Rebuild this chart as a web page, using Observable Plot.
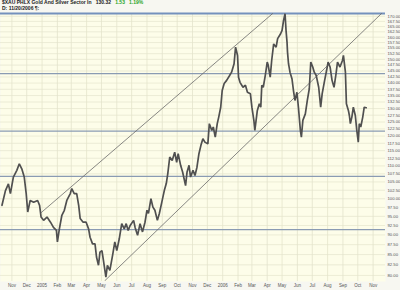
<!DOCTYPE html>
<html>
<head>
<meta charset="utf-8">
<script src="https://cdn.jsdelivr.net/npm/d3@7"></script>
<script src="https://cdn.jsdelivr.net/npm/@observablehq/plot@0.6"></script>
<style>
  html, body { margin: 0; padding: 0; background: #f7f7f1; }
  #wrap { position: relative; width: 400px; height: 290px; overflow: hidden; }
  #hdr { position: absolute; left: 2px; top: 0px; font-family: "Liberation Sans", Arial, sans-serif; font-size: 5px; line-height: 5.5px; color: #222; font-weight: bold; }
  #hdr .g { color: #2aa52a; }
</style>
</head>
<body>
<div id="wrap">
  <div id="chart"></div>
  <div id="hdr">
    <div>$XAU PHLX Gold And Silver Sector In&nbsp;&nbsp; 130.32&nbsp;&nbsp; <span class="g">1.53&nbsp;&nbsp; 1.19%</span></div>
    <div>D: 11/20/2006 ¶:</div>
  </div>
</div>
<script>
// ---- data ----
const dates = [
"2004-10-12","2004-10-19","2004-10-25","2004-10-29","2004-11-04","2004-11-11","2004-11-16","2004-11-21","2004-11-26","2004-11-30",
"2004-12-03","2004-12-08","2004-12-15","2004-12-23","2004-12-27","2004-12-30","2005-01-04","2005-01-11","2005-01-18","2005-01-24",
"2005-01-30","2005-02-01","2005-02-05","2005-02-10","2005-02-15","2005-02-20","2005-02-27","2005-03-02","2005-03-07","2005-03-12",
"2005-03-16","2005-03-19","2005-03-25","2005-03-31","2005-04-05","2005-04-08","2005-04-13","2005-04-18","2005-04-21","2005-04-25",
"2005-04-28","2005-05-02","2005-05-05","2005-05-10","2005-05-13","2005-05-18","2005-05-24","2005-05-28","2005-06-01","2005-06-06",
"2005-06-11","2005-06-16","2005-06-20","2005-06-24","2005-06-28","2005-07-05","2005-07-08","2005-07-13","2005-07-18","2005-07-23",
"2005-07-28","2005-08-01","2005-08-04","2005-08-09","2005-08-13","2005-08-17","2005-08-22","2005-08-26","2005-08-31","2005-09-05",
"2005-09-09","2005-09-12","2005-09-16","2005-09-21","2005-09-26","2005-09-30","2005-10-03","2005-10-08","2005-10-12","2005-10-18",
"2005-10-21","2005-10-25","2005-10-28","2005-11-02","2005-11-06","2005-11-10","2005-11-14","2005-11-18","2005-11-22","2005-11-26",
"2005-12-02","2005-12-05","2005-12-10","2005-12-13","2005-12-17","2005-12-21","2005-12-24","2005-12-28","2005-12-31","2006-01-04",
"2006-01-09","2006-01-15","2006-01-19","2006-01-24","2006-01-27","2006-01-31","2006-02-02","2006-02-05","2006-02-11","2006-02-16",
"2006-02-20","2006-02-26","2006-03-01","2006-03-05","2006-03-07","2006-03-12","2006-03-16","2006-03-19","2006-03-21","2006-03-24",
"2006-03-28","2006-04-01","2006-04-03","2006-04-07","2006-04-10","2006-04-14","2006-04-19","2006-04-22","2006-04-28","2006-05-01",
"2006-05-04","2006-05-07","2006-05-09","2006-05-11","2006-05-12","2006-05-14","2006-05-17","2006-05-21","2006-05-24","2006-05-27",
"2006-05-31","2006-06-03","2006-06-07","2006-06-09","2006-06-12","2006-06-17","2006-06-21","2006-06-25","2006-06-28","2006-07-02",
"2006-07-05","2006-07-09","2006-07-14","2006-07-18","2006-07-21","2006-07-26","2006-07-30","2006-08-02","2006-08-06","2006-08-10",
"2006-08-14","2006-08-18","2006-08-21","2006-08-26","2006-08-31","2006-09-02","2006-09-06","2006-09-08","2006-09-12","2006-09-14",
"2006-09-16","2006-09-19","2006-09-22","2006-09-26","2006-09-29","2006-10-02","2006-10-04","2006-10-07","2006-10-11","2006-10-14",
"2006-10-18"
];
const closes = [
98.1,102.4,104.4,101.5,106.5,108.6,110.7,109.1,106.5,101.4,
96.2,99.5,99.0,99.5,98.1,94.8,93.9,94.8,93.4,92.0,
91.2,88.2,91.6,95.3,96.7,99.5,101.5,103.0,101.5,101.5,
98.1,94.4,93.4,93.4,91.6,89.4,87.7,87.7,84.4,82.4,
85.6,86.0,83.6,79.6,82.4,81.2,85.2,88.2,86.0,89.0,
93.0,91.6,93.0,91.2,92.5,93.9,92.0,89.9,93.0,90.8,
93.4,96.7,95.8,100.0,97.6,96.7,93.9,95.8,99.0,102.4,
104.5,107.5,112.9,111.8,114.5,111.2,114.0,110.2,108.1,103.9,
108.1,110.2,106.5,108.6,107.0,109.6,114.0,116.8,119.1,117.9,
117.3,124.4,122.0,123.2,119.6,124.4,126.8,130.5,137.0,139.8,
141.1,143.1,144.5,148.1,155.4,151.7,142.4,140.3,138.3,139.1,
136.3,135.7,130.5,125.6,122.0,129.3,131.8,130.5,139.1,138.3,
143.1,148.8,147.4,142.4,149.5,156.9,155.4,159.3,161.6,163.2,
168.0,171.3,163.2,157.7,153.2,148.1,144.5,141.8,137.0,133.1,
136.3,130.5,122.0,119.6,125.6,128.0,133.1,137.7,148.8,146.7,
144.5,143.1,138.3,130.5,135.7,141.1,145.3,148.8,146.7,141.1,
138.3,143.8,148.8,146.7,149.5,151.7,144.5,131.8,129.3,127.4,
124.4,126.8,130.5,127.4,122.0,117.9,124.4,123.2,126.8,130.5,
130.3
];
// horizontal support / resistance levels (blue lines)
const levels = [143.9, 121.7, 106.7, 91.4];
// channel trend lines (two points each)
const upperChannel = [{date: "2004-12-29", value: 95.9}, {date: "2006-04-12", value: 171.4}];
const lowerChannel = [{date: "2005-05-08", value: 78.8}, {date: "2006-11-18", value: 171.4}];
// axis ticks
const yTicks = [80,82.5,85,87.5,90,92.5,95,97.5,100,102.5,105,107.5,110,112.5,115,117.5,120,122.5,125,127.5,130,132.5,135,137.5,140,142.5,145,147.5,150,152.5,155,157.5,160,162.5,165,167.5,170];
const monthStarts = ["2004-11-01","2004-12-01","2005-01-01","2005-02-01","2005-03-01","2005-04-01","2005-05-01","2005-06-01","2005-07-01","2005-08-01","2005-09-01","2005-10-01","2005-11-01","2005-12-01","2006-01-01","2006-02-01","2006-03-01","2006-04-01","2006-05-01","2006-06-01","2006-07-01","2006-08-01","2006-09-01","2006-10-01","2006-11-01"];
const monthLabels = ["Nov","Dec","2005","Feb","Mar","Apr","May","Jun","Jul","Aug","Sep","Oct","Nov","Dec","2006","Feb","Mar","Apr","May","Jun","Jul","Aug","Sep","Oct","Nov"];
const yDomain = [78.6, 171.4];
const xDomain = ["2004-10-09", "2006-11-26"];

// ---- build ----
const parse = d3.utcParse("%Y-%m-%d");
const prices = dates.map((d, i) => ({date: parse(d), close: closes[i]}));
const up = upperChannel.map(p => ({date: parse(p.date), value: p.value}));
const lo = lowerChannel.map(p => ({date: parse(p.date), value: p.value}));
const mTicks = monthStarts.map(parse);
const fmt = d3.format(".2f");

const chart = Plot.plot({
  width: 400,
  height: 290,
  marginTop: 13,
  marginBottom: 9,
  marginLeft: 0,
  marginRight: 15,
  style: {background: "#f7f7f1", fontFamily: "Liberation Sans, Arial, sans-serif", overflow: "hidden"},
  x: {type: "utc", domain: xDomain.map(parse), axis: null},
  y: {type: "log", domain: yDomain, axis: null},
  marks: [
    Plot.frame({fill: "#fdfde9", stroke: null}),
    Plot.gridY(yTicks, {stroke: "#e7e7d0", strokeOpacity: 1, strokeWidth: 0.8}),
    Plot.gridX(mTicks, {stroke: "#e3e3cb", strokeOpacity: 1, strokeWidth: 0.8}),
    Plot.ruleY(levels, {stroke: "#8a9bb3", strokeWidth: 1.2}),
    Plot.ruleY([yDomain[1]], {stroke: "#7491bd", strokeWidth: 2}),
    Plot.line(up, {x: "date", y: "value", stroke: "#6a6a6a", strokeWidth: 0.8, clip: true}),
    Plot.line(lo, {x: "date", y: "value", stroke: "#6a6a6a", strokeWidth: 0.8, clip: true}),
    Plot.line(prices, {x: "date", y: "close", stroke: "#505050", strokeWidth: 1.7, strokeLinejoin: "miter", clip: true}),
    Plot.text(yTicks, {y: d => d, text: d => fmt(d), frameAnchor: "right", textAnchor: "start", dx: 2, fontSize: 4.2, fill: "#555"}),
    Plot.text(mTicks, {x: d => d, text: (d, i) => monthLabels[i], frameAnchor: "bottom", dy: 5, fontSize: 4.5, fill: "#555"})
  ]
});
document.getElementById("chart").appendChild(chart);
</script>
</body>
</html>
